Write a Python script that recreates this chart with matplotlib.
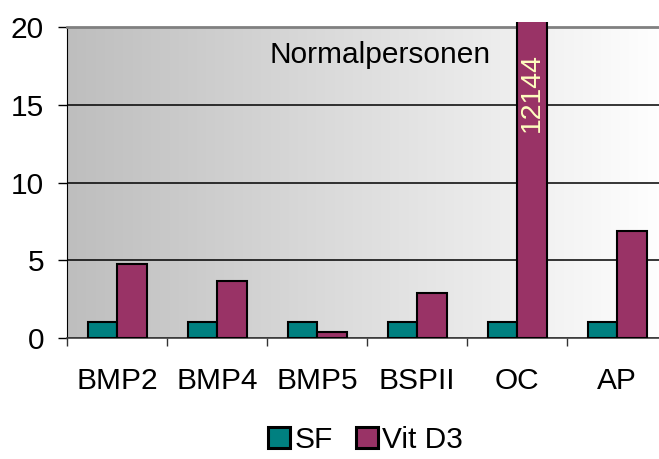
import numpy as np
import matplotlib
matplotlib.use('Agg')
import matplotlib.pyplot as plt
from matplotlib.patches import Rectangle

plt.rcParams['font.family'] = ['Liberation Sans', 'DejaVu Sans']

# Daten
kategorien = ['BMP2', 'BMP4', 'BMP5', 'BSPII', 'OC', 'AP']
sf = [1, 1, 1, 1, 1, 1]
vit_d3 = [4.73, 3.65, 0.39, 2.9, 12144, 6.9]

fig = plt.figure(figsize=(6.59, 4.59), dpi=100)
ax = fig.add_axes([67 / 659, 1 - 338 / 459, 600 / 659, 311 / 459])

# Hintergrund mit Farbverlauf (grau -> weiss)
verlauf = np.linspace(0, 1, 256).reshape(1, -1)
cmap = matplotlib.colors.LinearSegmentedColormap.from_list('hg', ['#bebebe', '#ffffff'])
ax.imshow(verlauf, cmap=cmap, aspect='auto', extent=[0, 1, 0, 1],
          transform=ax.transAxes, zorder=0)

x = np.arange(len(kategorien))
breite = 0.295
balken_sf = ax.bar(x - breite / 2, sf, breite, color='#008080', edgecolor='black',
                   linewidth=1.5, label='SF', zorder=3)
balken_vd = ax.bar(x + breite / 2, vit_d3, breite, color='#993366', edgecolor='black',
                   linewidth=1.5, label='Vit D3', zorder=3)

# Zu hohe Balken knapp oberhalb der Achse abschneiden
clip = Rectangle((0, 0), 1, 1.017, transform=ax.transAxes, facecolor='none')
for b in balken_vd:
    b.set_clip_path(clip)

ax.set_xlim(-0.5, len(kategorien) - 0.5)
ax.set_ylim(0, 20)

# Wert des abgeschnittenen Balkens
for i, v in enumerate(vit_d3):
    if v > 20:
        ax.text(x[i] + breite / 2, 15.8, str(v), rotation=90, ha='center', va='center',
                color='#ffffc0', fontsize=20.5, zorder=4)

ax.text(2.63, 18.2, 'Normalpersonen', ha='center', va='center', fontsize=21.5, zorder=4)

ax.set_yticks([0, 5, 10, 15, 20])
ax.yaxis.grid(True, color='black', linewidth=1.1, zorder=1)
ax.set_axisbelow(True)
ax.tick_params(axis='y', labelsize=21.5, length=6.5, width=1, pad=10, colors='black')

ax.set_xticks(x)
ax.set_xticklabels(kategorien)
ax.set_xticks(np.arange(-0.5, len(kategorien)), minor=True)
ax.tick_params(axis='x', which='major', length=0, labelsize=21.5, pad=21)
ax.tick_params(axis='x', which='minor', length=6, width=1, color='#333333')

ax.spines['top'].set_color('#808080')
ax.spines['top'].set_linewidth(2)
ax.spines['right'].set_visible(False)
ax.spines['left'].set_color('black')
ax.spines['bottom'].set_color('#404040')
ax.spines['bottom'].set_linewidth(1.2)

leg = fig.legend(handles=[balken_sf, balken_vd], loc='center', bbox_to_anchor=(0.555, 0.042),
                 ncol=2, frameon=False, fontsize=21.5, handlelength=0.72, handleheight=0.72,
                 handletextpad=0.15, columnspacing=0.8, borderpad=0.1)
for h in leg.legend_handles:
    h.set_linewidth(2.2)

fig.savefig('out.png', dpi=100)
